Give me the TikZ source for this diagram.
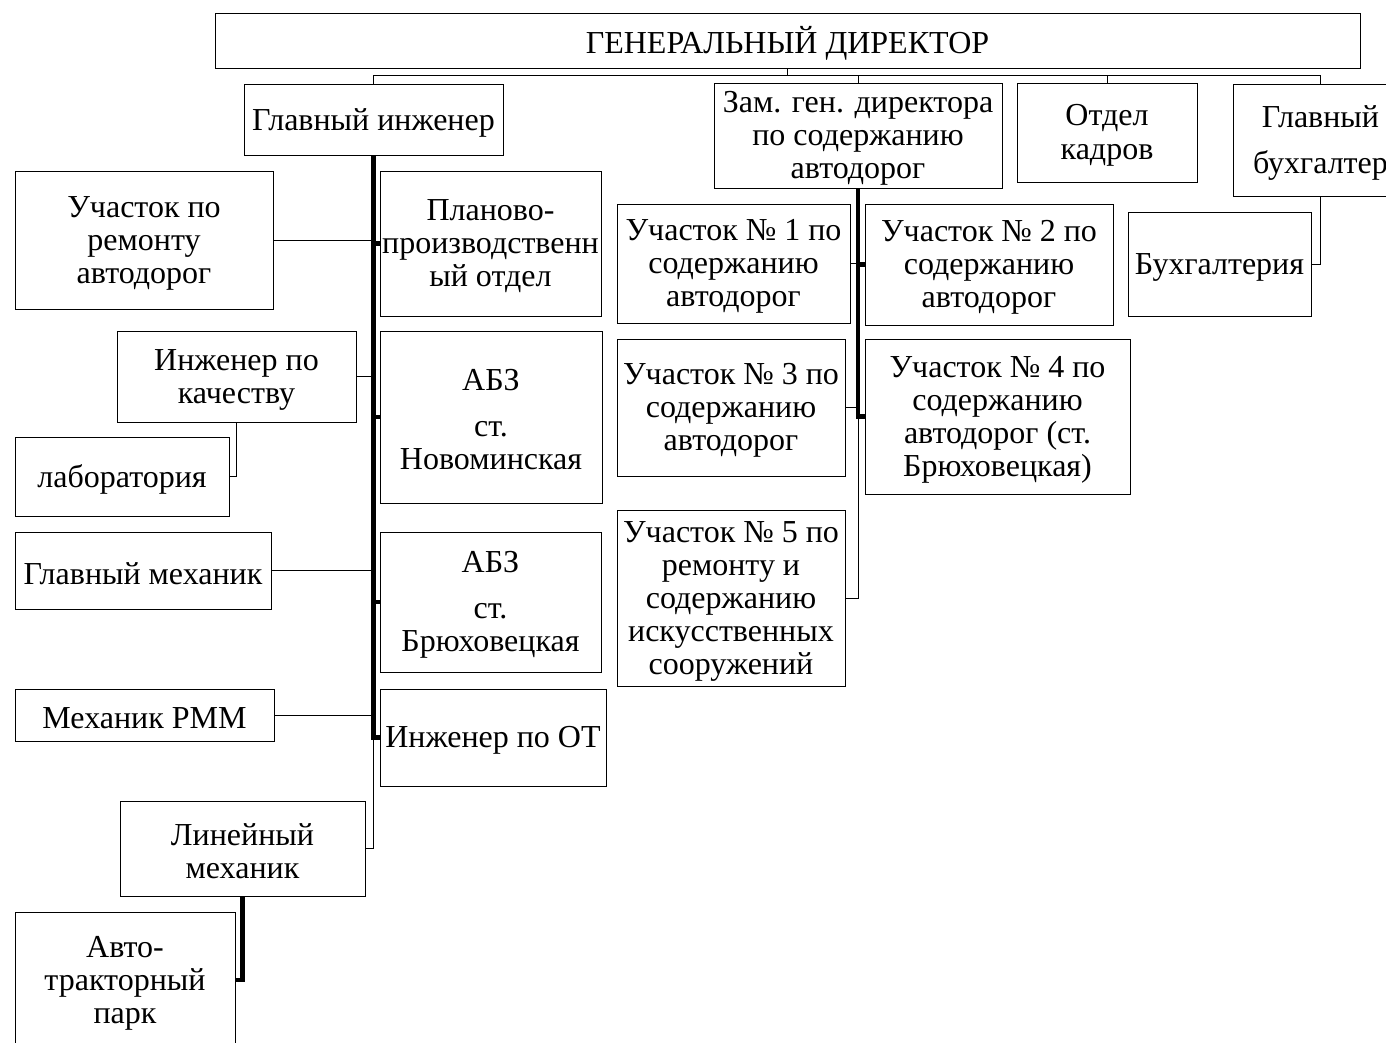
\documentclass[tikz,border=0pt]{standalone}
\usepackage{fontspec}
\setmainfont{Liberation Serif}
\begin{document}
\begin{tikzpicture}[x=1pt,y=-1pt,
  box/.style={draw=black,line width=0.9pt,fill=white,inner sep=0pt},
  txt/.style={inner sep=0pt,align=center,font=\fontsize{32}{33}\selectfont},
  thn/.style={draw=black,line width=0.9pt},
  thk/.style={draw=black,line width=4.6pt}]
\clip (0,0) rectangle (1386,1043);
\fill[white] (0,0) rectangle (1386,1043);
\newcommand\bx[6]{\node[box,minimum width={#4-#2},minimum height={#5-#3}] (#1) at ({(#2+#4)/2},{(#3+#5)/2}) {};
  \node[txt] (#1-t) at ([yshift=-3pt]#1.center) {#6};}
% top level
\bx{gd}{215}{13}{1360}{68}{ГЕНЕРАЛЬНЫЙ ДИРЕКТОР}
\bx{gi}{244}{84}{503}{155}{Главный инженер}
\bx{zam}{714}{83}{1002}{188}{Зам. ген. директора\\по содержанию\\автодорог}
\bx{ok}{1017}{83}{1197}{182}{Отдел\\[1pt]кадров}
\bx{gb}{1233}{84}{1408}{196}{Главный\\[13pt]бухгалтер}
% left column
\bx{ur}{15}{171}{273}{309}{Участок по\\ремонту\\автодорог}
\bx{plan}{380}{171}{601}{316}{Планово-\\производственн\\ый отдел}
\bx{ik}{117}{331}{356}{422}{Инженер по\\качеству}
\bx{abzn}{380}{331}{602}{503}{АБЗ\\[13pt]ст.\\Новоминская}
\bx{lab}{15}{437}{229}{516}{лаборатория}
\bx{gm}{15}{532}{271}{609}{Главный механик}
\bx{abzb}{380}{532}{601}{672}{АБЗ\\[13pt]ст.\\Брюховецкая}
\bx{rmm}{15}{689}{274}{741}{Механик РММ}
\bx{ot}{380}{689}{606}{786}{Инженер по ОТ}
\bx{lm}{120}{801}{365}{896}{Линейный\\механик}
\bx{ap}{15}{912}{235}{1048}{Авто-\\тракторный\\парк}
% right column
\bx{u1}{617}{204}{850}{323}{Участок № 1 по\\содержанию\\автодорог}
\bx{u2}{865}{204}{1113}{325}{Участок № 2 по\\содержанию\\автодорог}
\bx{bh}{1128}{212}{1311}{316}{Бухгалтерия}
\bx{u3}{617}{339}{845}{476}{Участок № 3 по\\содержанию\\автодорог}
\bx{u4}{865}{339}{1130}{494}{Участок № 4 по\\содержанию\\автодорог (ст.\\Брюховецкая)}
\bx{u5}{617}{510}{845}{686}{Участок № 5 по\\ремонту и\\содержанию\\искусственных\\сооружений}
% top connectors
\coordinate (busL) at (373.5,75);
\coordinate (busR) at (1320.5,75);
\draw[thn] (gd.south) -- (gd.south |- busL);
\draw[thn] (gi.north |- busL) -- (busR);
\draw[thn] (gi.north) -- (gi.north |- busL);
\draw[thn] (zam.north) -- (zam.north |- busL);
\draw[thn] (ok.north) -- (ok.north |- busL);
\draw[thn] (gb.north) -- (gb.north |- busL);
% left spine
\draw[thn] (ur.east) -- (ur.east -| gi.south);
\draw[thn] (ik.east) -- (ik.east -| gi.south);
\draw[thn] (gm.east) -- (gm.east -| gi.south);
\draw[thn] (rmm.east) -- (rmm.east -| gi.south);
\draw[thn] (gi.south |- ot.west) |- (lm.east);
\draw[thk] (gi.south) |- (ot.west);
\draw[thk] (plan.west) -- (plan.west -| gi.south);
\draw[thk] (abzn.west) -- (abzn.west -| gi.south);
\draw[thk] (abzb.west) -- (abzb.west -| gi.south);
\draw[thn] (ik.south) |- (lab.east);
\draw[thk] (lm.south) |- (ap.east);
% right spine
\draw[thn] (u1.east) -- (u1.east -| zam.south);
\draw[thn] (u3.east) -- (u3.east -| zam.south);
\draw[thn] (zam.south |- u4.west) |- (u5.east);
\draw[thk] (zam.south) |- (u4.west);
\draw[thk] (u2.west) -- (u2.west -| zam.south);
\draw[thn] (gb.south) |- (bh.east);
\end{tikzpicture}
\end{document}
